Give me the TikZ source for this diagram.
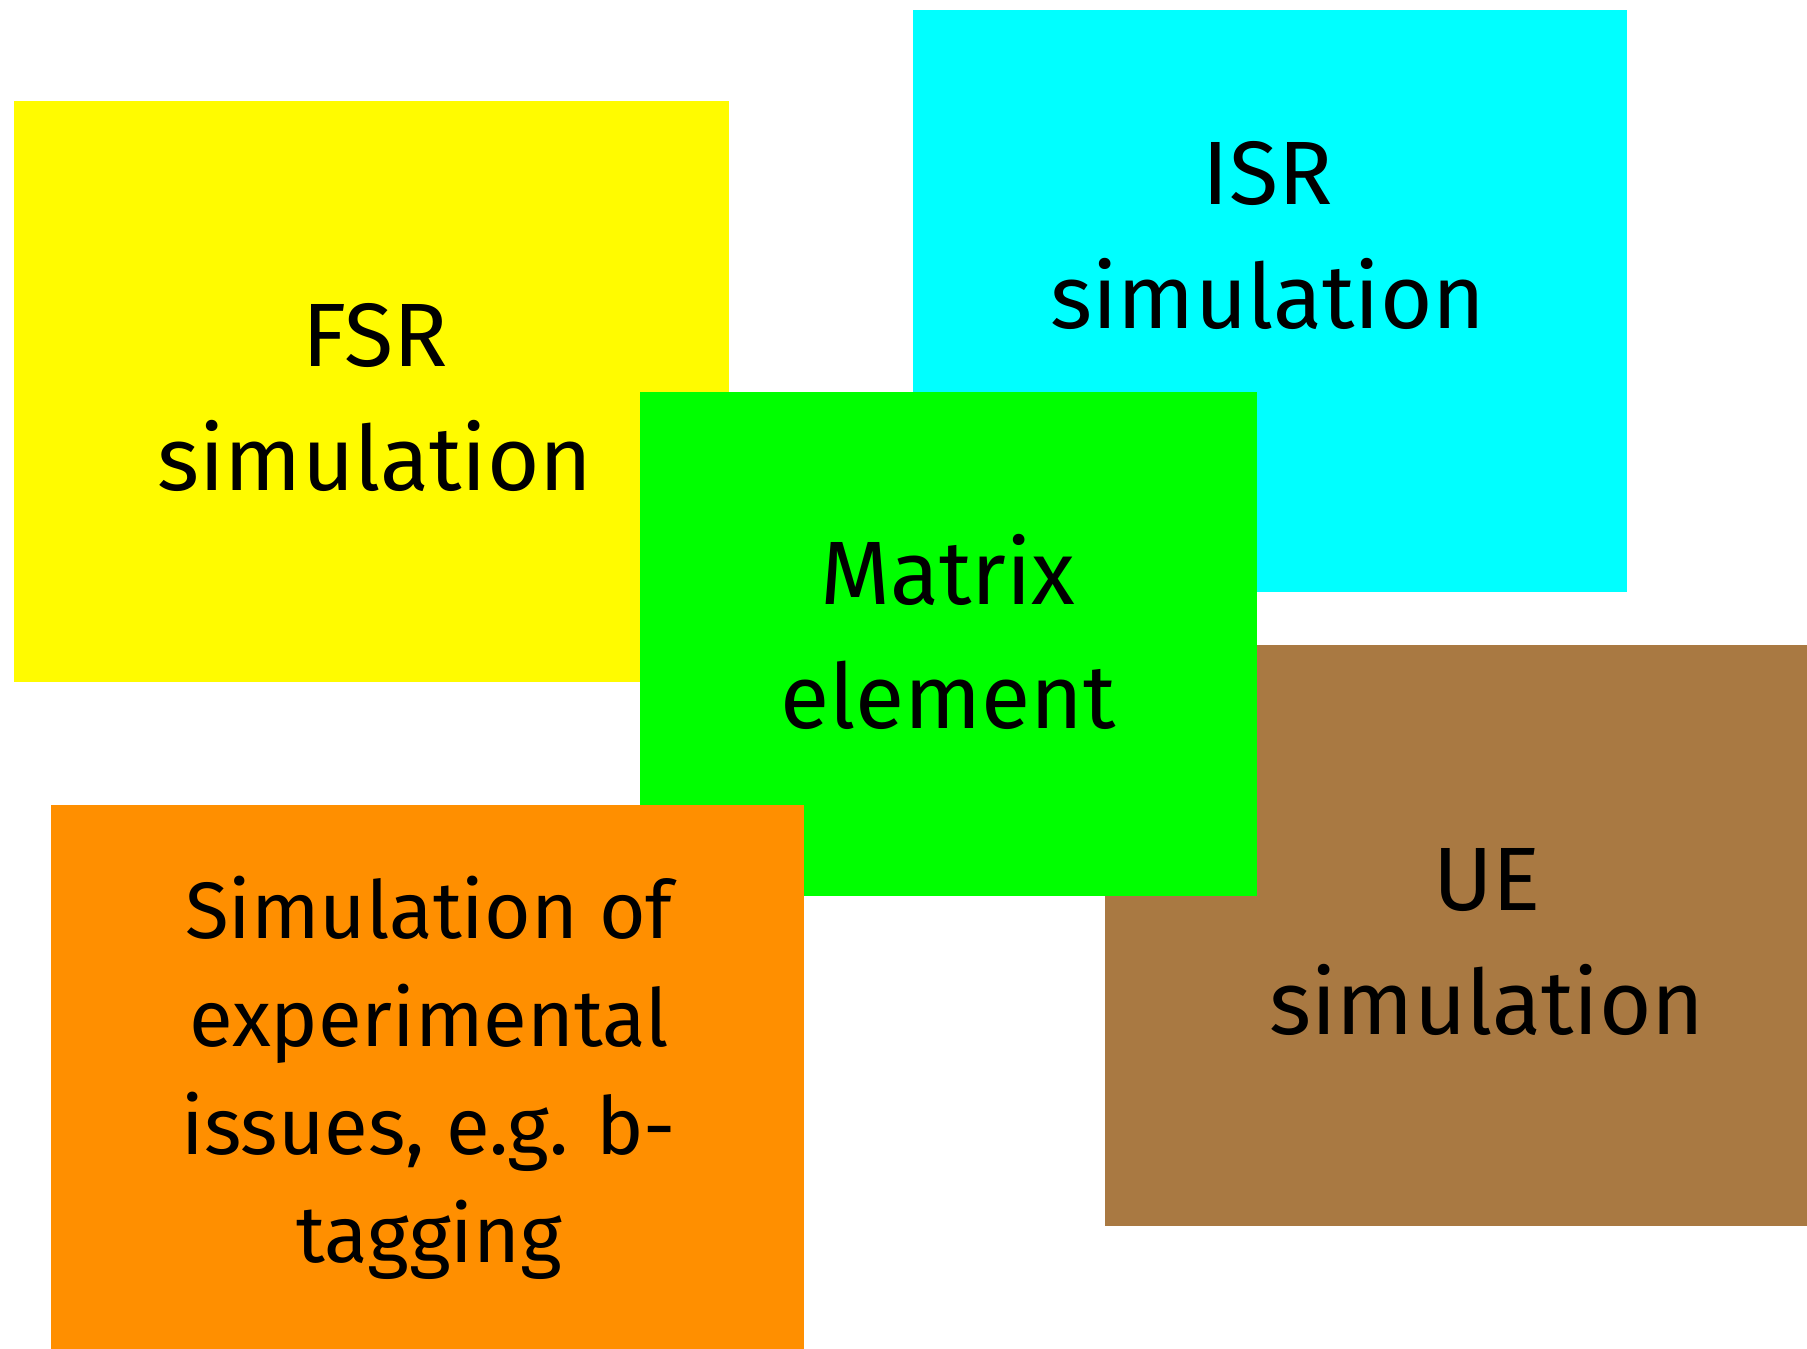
\documentclass[tikz,border=0pt]{standalone}
\usepackage{fontspec}
\setmainfont{Fira Sans}
\definecolor{cyellow}{HTML}{FFFB00}
\definecolor{ccyan}{HTML}{00FFFF}
\definecolor{cgreen}{HTML}{00FF00}
\definecolor{cbrown}{HTML}{A97942}
\definecolor{corange}{HTML}{FF8F00}
\begin{document}
\begin{tikzpicture}[x=1pt,y=-1pt,
  panel/.style={fill=#1,draw=none},
  big/.style={font=\fontsize{90}{124}\selectfont,align=center,inner sep=0pt,anchor=base,text=black},
  small/.style={font=\fontsize{80}{108}\selectfont,align=center,inner sep=0pt,anchor=base,text=black}]
\useasboundingbox (0,0) rectangle (1807,1349);
\fill[panel=cyellow] (14,101) rectangle (729,682);
\fill[panel=ccyan] (913,10) rectangle (1627,592);
\fill[panel=cbrown] (1105,645) rectangle (1807,1226);
\fill[panel=cgreen] (640,392) rectangle (1257,896);
\fill[panel=corange] (51,805) rectangle (804,1349);
\node[big] (fsr) at (375,490) {FSR\\simulation};
\node[big] (isr) at (1268,328) {ISR\\simulation};
\node[big] (me) at (948,728) {Matrix\\element};
\node[big] (ue) at (1487,1034) {UE\\simulation};
\node[small] (exp) at (429,1262) {Simulation of\\experimental\\issues, e.g. b-\\tagging};
\end{tikzpicture}
\end{document}
